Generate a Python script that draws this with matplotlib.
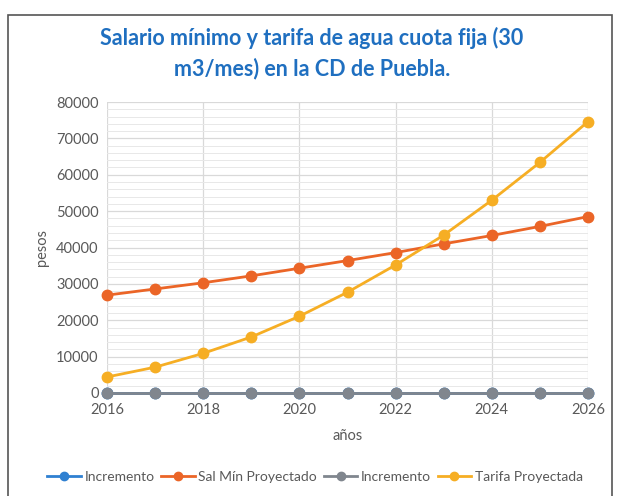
import matplotlib
matplotlib.use("Agg")
import matplotlib.pyplot as plt
from matplotlib.patches import Rectangle
from matplotlib.ticker import MultipleLocator

years = [2016, 2017, 2018, 2019, 2020, 2021, 2022, 2023, 2024, 2025, 2026]
incremento_sal = [0, 0, 0, 0, 0, 0, 0, 0, 0, 0, 0]
sal_min = [26900, 28600, 30300, 32200, 34300, 36400, 38600, 41000, 43300, 45800, 48500]
incremento_tar = [0, 0, 0, 0, 0, 0, 0, 0, 0, 0, 0]
tarifa = [4400, 7100, 10900, 15400, 21100, 27700, 35200, 43400, 53000, 63400, 74600]
series_names = ["Incremento", "Sal Mín Proyectado", "Incremento", "Tarifa Proyectada"]
title = "Salario mínimo y tarifa de agua cuota fija (30\nm3/mes) en la CD de Puebla."

plt.rcParams['font.family'] = ['Lato', 'DejaVu Sans']

fig = plt.figure(figsize=(6.25, 4.96), dpi=100)
fig.patches.append(Rectangle((8/625, -0.05), (612-8)/625, 1.05 - 15/496,
                             transform=fig.transFigure, fill=False,
                             edgecolor='#555555', linewidth=1.2))
ax = fig.add_axes([107/625, 1-393/496, 481/625, 291/496])

txt = '#595959'
blue, orange, gray, yellow = '#2F80D1', '#EB6527', '#80868E', '#F6AE24'
kw = dict(linewidth=2.0, marker='o', markersize=7.5, clip_on=False)
ax.plot(years, incremento_sal, color=blue, label=series_names[0], zorder=3, **kw)
ax.plot(years, sal_min, color=orange, label=series_names[1], zorder=4, **kw)
ax.plot(years, incremento_tar, color=gray, label=series_names[2], zorder=5, **kw)
ax.plot(years, tarifa, color=yellow, label=series_names[3], zorder=4, **kw)

ax.set_xlim(2016, 2026)
ax.set_ylim(0, 80000)
ax.xaxis.set_major_locator(MultipleLocator(2))
ax.yaxis.set_major_locator(MultipleLocator(10000))
ax.yaxis.set_minor_locator(MultipleLocator(2000))
ax.grid(which='major', color='#D9D9D9', linewidth=0.9)
ax.grid(which='minor', axis='y', color='#E8E8E8', linewidth=0.7)
ax.set_axisbelow(True)
for s in ax.spines.values():
    s.set_visible(False)
ax.tick_params(which='both', length=0, colors=txt, labelsize=10.5)
ax.tick_params(axis='x', pad=7)
ax.tick_params(axis='y', pad=6)
ax.set_xlabel('años', color=txt, fontsize=10.5, labelpad=9)
ax.set_ylabel('pesos', color=txt, fontsize=10.5, labelpad=5)

fig.text(312/625, 1-53/496, title, ha='center', va='center', color='#1F6FC0',
         fontsize=15.5, fontweight='bold', linespacing=1.45)

fig.legend(loc='center', bbox_to_anchor=(315/625, 1-477/496), ncol=4, frameon=False,
           fontsize=10, labelcolor=txt, handlelength=2.4, columnspacing=0.5,
           handletextpad=0.25, markerscale=0.8)

fig.savefig('out.png', dpi=100)
